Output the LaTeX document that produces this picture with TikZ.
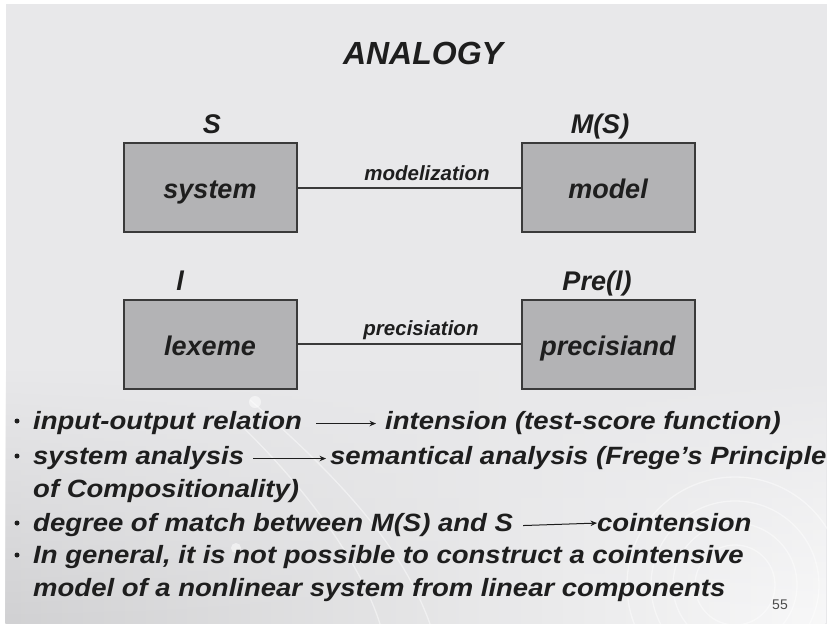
\documentclass[tikz,border=0pt]{standalone}
\usepackage{fontspec}
\setmainfont{Liberation Sans}
\newfontfamily\widesans[FakeStretch=1.1]{Liberation Sans}
\usetikzlibrary{arrows.meta,fadings}
\definecolor{slidebg}{HTML}{E8E8EA}
\definecolor{boxfill}{HTML}{B3B3B5}
\definecolor{boxline}{HTML}{3A3A3A}
\definecolor{ink}{HTML}{1E1E1E}
\newcommand{\bi}[1]{\fontsize{#1}{#1}\selectfont\bfseries\itshape}
\begin{document}
\begin{tikzpicture}[x=1pt,y=-1pt,
  block/.style={draw=boxline, line width=2pt, fill=boxfill,
    minimum width=173pt, minimum height=89pt, inner sep=0pt},
  boxtext/.style={inner sep=0pt, anchor=base, text=ink, font=\bi{27}},
  tag/.style={inner sep=0pt, anchor=base, text=ink, font=\bi{27}},
  linklabel/.style={inner sep=0pt, anchor=base, text=ink, font=\bi{20.5}},
  link/.style={draw=boxline, line width=2pt},
  item/.style={inner sep=0pt, anchor=base west, text=ink, font=\widesans\bi{25}},
  dot/.style={circle, fill=ink, inner sep=0pt, minimum size=5pt},
  implies/.style={draw=ink, line width=1pt, -{Stealth[length=6.5pt,width=5.5pt]}},
  swirl/.style={draw=white, line width=1.3pt, opacity=0.45}]

% slide background
\fill[white] (0,0) rectangle (827,626);
\fill[slidebg] (6,4) rectangle (827,624);
\shade[left color=black!10!slidebg, right color=white!70!slidebg, path fading=north]
  (6,370) rectangle (827,624);
\useasboundingbox (0,0) rectangle (827,626);

% decorative swirls
\foreach \r in {40,62,84,108} \draw[swirl] (735,585) circle[radius=\r];
\draw[swirl] (250,400) .. controls (330,470) and (400,540) .. (430,624);
\draw[swirl] (230,415) .. controls (300,480) and (360,560) .. (380,624);
\fill[white, opacity=0.5] (255,402) circle[radius=6];
\fill[white, opacity=0.5] (236,548) circle[radius=5];

% title
\node[tag, font=\bi{32}] (title) at (423,65) {ANALOGY};

% upper pair
\node[block] (system) at (210,187.5) {};
\node[block] (model) at (608,187.5) {};
\node[boxtext] (systemtxt) at (210,198) {system};
\node[boxtext] (modeltxt) at (608,198) {model};
\node[tag] (S) at (212,133) {S};
\node[tag] (MS) at (600,133) {M(S)};
\draw[link] (system.east) -- (model.west);
\node[linklabel] (modlab) at (427,180) {modelization};

% lower pair
\node[block] (lexeme) at (210,344) {};
\node[block] (precisiand) at (608,344) {};
\node[boxtext] (lexemetxt) at (210,355) {lexeme};
\node[boxtext] (precisiandtxt) at (608,355) {precisiand};
\node[tag] (l) at (180,290) {l};
\node[tag] (Prel) at (597,290) {Pre(l)};
\draw[link] (lexeme.east) -- (precisiand.west);
\node[linklabel] (prelab) at (421,335) {precisiation};

% bullet list
\node[dot] (b1) at (17,421) {};
\node[item] (t1a) at (33,429) {input-output relation};
\node[item] (t1b) at (385,429) {intension (test-score function)};
\draw[implies] ([xshift=14pt,yshift=-1pt]t1a.east) -- ([xshift=-9pt,yshift=-1pt]t1b.west);

\node[dot] (b2) at (17,456) {};
\node[item] (t2a) at (33,464) {system analysis};
\node[item] (t2b) at (330,464) {semantical analysis (Frege’s Principle};
\draw[implies] ([xshift=9pt,yshift=-1pt]t2a.east) -- ([xshift=-4pt,yshift=-1pt]t2b.west);
\node[item] (t2c) at (33,497) {of Compositionality)};

\node[dot] (b3) at (17,523) {};
\node[item] (t3a) at (33,531) {degree of match between M(S) and S};
\node[item] (t3b) at (597,531) {cointension};
\draw[implies] ([xshift=10pt,yshift=-1pt]t3a.east) -- ([yshift=-1pt]t3b.west);

\node[dot] (b4) at (17,555) {};
\node[item] (t4a) at (33,563) {In general, it is not possible to construct a cointensive};
\node[item] (t4b) at (33,596) {model of a nonlinear system from linear components};

% page number
\node[inner sep=0pt, anchor=base, text=ink!80, font=\fontsize{14}{14}\selectfont] (page) at (780,609) {55};
\end{tikzpicture}
\end{document}
